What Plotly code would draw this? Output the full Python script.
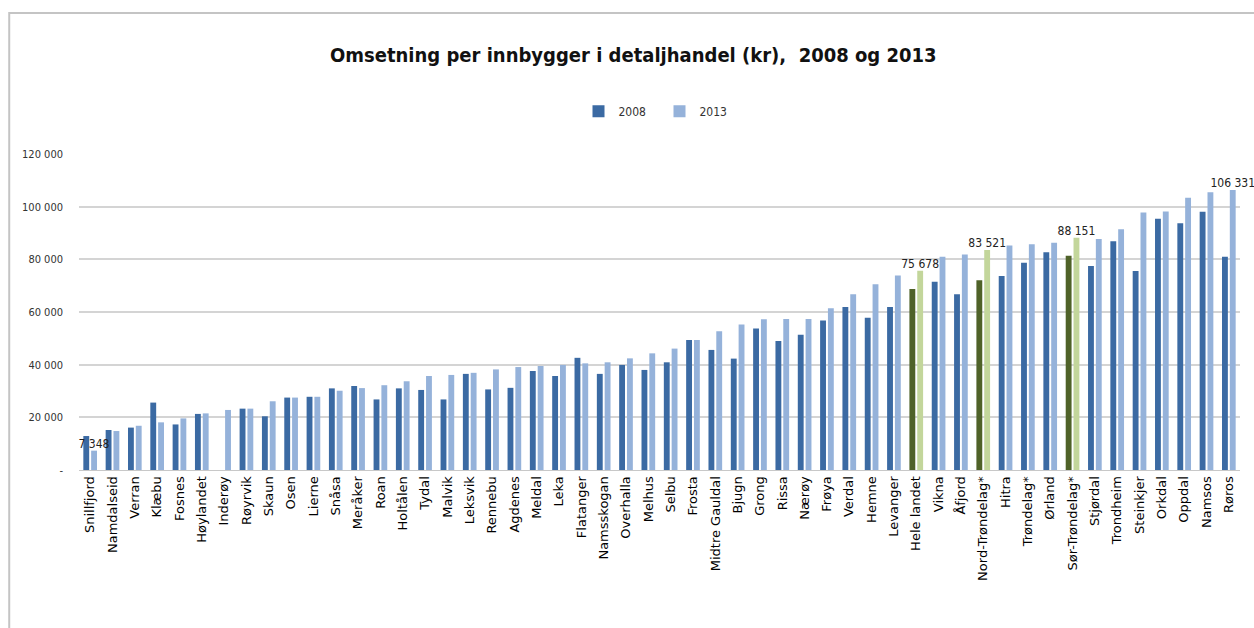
import plotly.graph_objects as go

categories = ["Snillfjord", "Namdalseid", "Verran", "Klæbu", "Fosnes", "Høylandet", "Inderøy",
              "Røyrvik", "Skaun", "Osen", "Lierne", "Snåsa", "Meråker", "Roan", "Holtålen", "Tydal",
              "Malvik", "Leksvik", "Rennebu", "Agdenes", "Meldal", "Leka", "Flatanger", "Namsskogan",
              "Overhalla", "Melhus", "Selbu", "Frosta", "Midtre Gauldal", "Bjugn", "Grong", "Rissa",
              "Nærøy", "Frøya", "Verdal", "Hemne", "Levanger", "Hele landet", "Vikna", "Åfjord",
              "Nord-Trøndelag*", "Hitra", "Trøndelag*", "Ørland", "Sør-Trøndelag*", "Stjørdal",
              "Trondheim", "Steinkjer", "Orkdal", "Oppdal", "Namsos", "Røros"]

values_2008 = [12900, 15200, 16100, 25600, 17300, 21300, None,
               23300, 20400, 27500, 27800, 31000, 31900, 26800, 31000, 30400,
               26800, 36500, 30600, 31200, 37600, 35700, 42600, 36500,
               39900, 38000, 40900, 49400, 45600, 42300, 53700, 49000,
               51400, 56800, 61900, 57800, 61900, 68700, 71500, 66700,
               72100, 73700, 78700, 82700, 81400, 77500,
               86900, 75600, 95400, 93700, 98100, 81000]

values_2013 = [7348, 14800, 16800, 18100, 19600, 21500, 22800,
               23300, 26100, 27500, 27800, 30100, 31100, 32200, 33700, 35700,
               36100, 36900, 38200, 39100, 39500, 39900, 40500, 40900,
               42400, 44300, 46100, 49400, 52700, 55300, 57200, 57300,
               57300, 61400, 66700, 70500, 73900, 75678, 81000, 81800,
               83521, 85300, 85700, 86300, 88151, 87700,
               91400, 97800, 98200, 103400, 105500, 106331]

labelled = ["Snillfjord", "Hele landet", "Nord-Trøndelag*", "Sør-Trøndelag*", "Røros"]
highlighted = ["Hele landet", "Nord-Trøndelag*", "Sør-Trøndelag*"]

y_tickvals = [0, 20000, 40000, 60000, 80000, 100000, 120000]
y_ticktext = ["-", "20 000", "40 000", "60 000", "80 000", "100 000", "120 000"]

series_names = ["2008", "2013"]

DARK_BLUE = "#3B6AA3"
LIGHT_BLUE = "#95B2DA"
DARK_GREEN = "#4F6228"
LIGHT_GREEN = "#C3D69B"

def fmt(v):
    return f"{v:,}".replace(",", " ")

colors_2008 = [DARK_GREEN if c in highlighted else DARK_BLUE for c in categories]
colors_2013 = [LIGHT_GREEN if c in highlighted else LIGHT_BLUE for c in categories]
text_2013 = [fmt(v) if c in labelled else "" for c, v in zip(categories, values_2013)]

NARROW = "DejaVu Sans Condensed, Liberation Sans Narrow, Liberation Sans, sans-serif"

fig = go.Figure()
fig.add_trace(go.Bar(x=categories, y=values_2008, name=series_names[0],
                     marker=dict(color=colors_2008, line=dict(width=0))))
fig.add_trace(go.Bar(x=categories, y=values_2013, name=series_names[1],
                     marker=dict(color=colors_2013, line=dict(width=0)),
                     text=text_2013, textposition="outside", constraintext="none",
                     cliponaxis=False,
                     textfont=dict(family=NARROW, size=12, color="#222222")))

fig.update_layout(
    width=1254, height=628,
    paper_bgcolor="white", plot_bgcolor="white",
    margin=dict(l=79, r=14, t=154, b=158),
    barmode="group", bargap=0.3, bargroupgap=0.25,
    title=dict(text="<b>Omsetning per innbygger i detaljhandel (kr),  2008 og 2013</b>",
               x=0.505, xanchor="center", y=0.912, yanchor="middle",
               font=dict(family=NARROW, size=20, color="#111111")),
    legend=dict(orientation="h", x=0.5, xanchor="center", y=1.135, yanchor="middle",
                font=dict(family=NARROW, size=12, color="#333333"),
                traceorder="normal", itemwidth=30, entrywidth=36, entrywidthmode="pixels"),
    showlegend=True,
)
fig.update_xaxes(tickangle=-90, tickfont=dict(family="DejaVu Sans", size=13, color="#000000"),
                 showline=True, linecolor="#c8c8c8", linewidth=1, ticks="", showgrid=False)
fig.update_yaxes(range=[0, 120000], tickvals=y_tickvals, ticktext=y_ticktext,
                 tickfont=dict(family=NARROW, size=11, color="#333333"),
                 showgrid=True, gridcolor="#d4d4d4", gridwidth=2, zeroline=False,
                 showline=False, ticks="", ticklabelstandoff=15)

fig.add_shape(type="rect", xref="paper", yref="paper", x0=-0.0601, x1=1.014, y0=-0.538, y1=1.446,
              line=dict(color="#c4c4c4", width=2), fillcolor="rgba(0,0,0,0)", layer="below")

fig.write_html("out.html", config={"displayModeBar": False},
               post_script="document.body.style.margin='0';document.body.style.padding='0';")
